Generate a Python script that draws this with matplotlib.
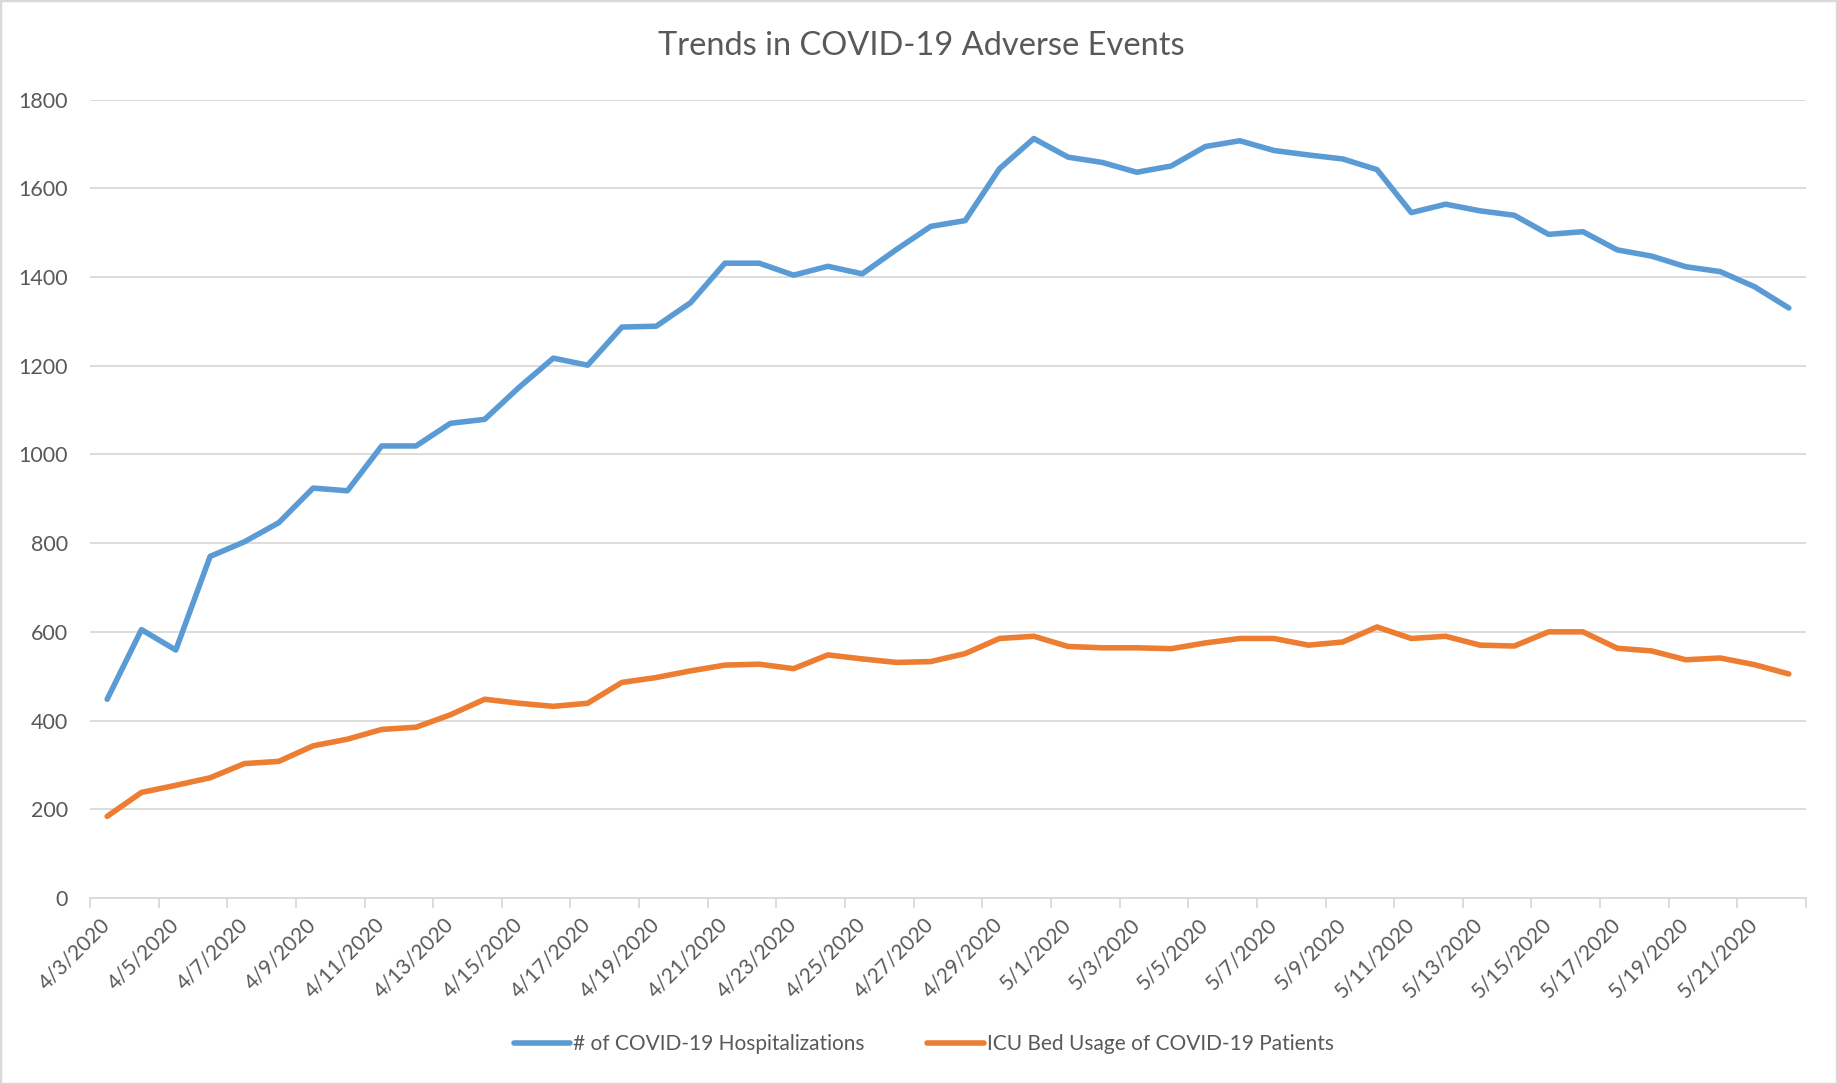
import matplotlib
matplotlib.use("Agg")
import matplotlib.pyplot as plt
from matplotlib.patches import Rectangle
import numpy as np
import pandas as pd

# Categories (one per day):
dates = pd.date_range("2020-04-03", "2020-05-22", freq="D")
date_labels = [f"{d.month}/{d.day}/{d.year}" for d in dates]

# Values:
hospitalizations = [448, 605, 559, 770, 803, 846, 924, 918, 1019, 1019,
                    1070, 1079, 1151, 1217, 1201, 1287, 1289, 1342, 1431, 1431,
                    1404, 1424, 1407, 1462, 1514, 1527, 1644, 1712, 1670, 1658,
                    1636, 1650, 1694, 1707, 1685, 1675, 1666, 1642, 1545, 1564,
                    1549, 1539, 1496, 1502, 1461, 1447, 1423, 1412, 1378, 1330]
icu_beds = [184, 238, 254, 271, 303, 308, 343, 358, 380, 385,
            413, 448, 439, 432, 439, 486, 497, 512, 525, 527,
            517, 548, 539, 531, 533, 551, 585, 590, 567, 564,
            564, 562, 575, 585, 585, 570, 577, 611, 585, 590,
            570, 568, 600, 600, 563, 557, 537, 541, 526, 505]

series_names = ["# of COVID-19 Hospitalizations", "ICU Bed Usage of COVID-19 Patients"]
y_ticks = list(range(0, 1801, 200))

BLUE = "#5B9BD5"
ORANGE = "#ED7D31"
GRID = "#D9D9D9"
TEXT = "#595959"

plt.rcParams['font.family'] = ['Lato', 'DejaVu Sans']

W, H = 1837, 1084
fig = plt.figure(figsize=(W / 100, H / 100), dpi=100)
ax = fig.add_axes([90 / W, 1 - 898 / H, (1806 - 90) / W, (898 - 99.5) / H])

# Lines:
x = np.arange(len(dates))
for values, color, name in zip([hospitalizations, icu_beds], [BLUE, ORANGE], series_names):
    ax.plot(x, values, color=color, lw=4.0, label=name,
            solid_joinstyle='round', solid_capstyle='round')

# Axes limits and grid:
ax.set_xlim(-0.5, len(dates) - 0.5)
ax.set_ylim(0, 1800)
ax.set_yticks(y_ticks)
ax.grid(axis='y', color=GRID, lw=1.3)
ax.set_axisbelow(True)
for side in ['top', 'right', 'left']:
    ax.spines[side].set_visible(False)
ax.spines['bottom'].set_color(GRID)
ax.spines['bottom'].set_linewidth(1.3)

ax.tick_params(axis='y', length=0, pad=16, labelsize=15.5, labelcolor=TEXT)

# Labels on every second day, tick marks on category borders:
ax.set_xticks(x[::2])
ax.set_xticklabels(date_labels[::2], rotation=45, ha='right', va='center',
                   rotation_mode='anchor')
ax.tick_params(axis='x', which='major', length=0, pad=17, labelsize=15, labelcolor=TEXT)
ax.set_xticks(np.append(x[::2] - 0.5, x[-1] + 0.5), minor=True)
ax.tick_params(axis='x', which='minor', length=7, width=1.3, color=GRID)

# Title and legend:
fig.text(921 / W, 1 - 46 / H, "Trends in COVID-19 Adverse Events",
         ha='center', va='center', fontsize=23.5, color=TEXT)
fig.legend(loc='center', bbox_to_anchor=(924 / W, 1 - 1044 / H), ncol=2,
           frameon=False, fontsize=15, labelcolor=TEXT, handlelength=2.7,
           handletextpad=0.15, columnspacing=3.0)

# Light border round the chart area:
fig.patches.append(Rectangle((0, 0), 1, 1, transform=fig.transFigure,
                             fill=False, edgecolor=GRID, lw=2.5))

fig.savefig("out.png", dpi=100)
